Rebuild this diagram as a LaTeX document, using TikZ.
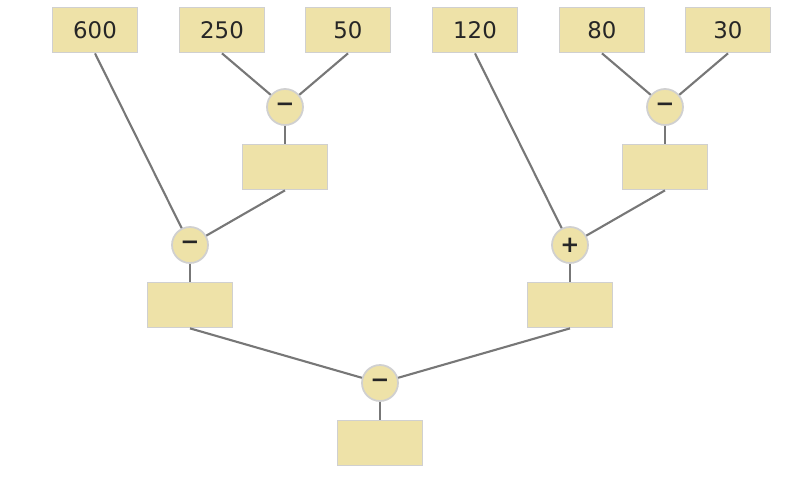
\documentclass[tikz,border=0pt]{standalone}
\usepackage{fontspec}
\setmainfont{DejaVu Sans}
\usetikzlibrary{positioning}
\definecolor{boxfill}{HTML}{EEE2A8}
\definecolor{boxdraw}{HTML}{D0D0D0}
\definecolor{wire}{HTML}{777777}
\tikzset
{
    valbox/.style = {rectangle, draw=boxdraw, fill=boxfill, line width=1pt, minimum width=1.7cm, minimum height=0.9cm, font=\fontsize{13}{15}\selectfont, text=black!85},
    opnode/.style = {circle, draw=boxdraw, fill=boxfill, line width=1pt, minimum size=0.72cm, inner sep=0pt, font=\bfseries\fontsize{13}{15}\selectfont, text=black!85},
    wire/.style   = {draw=wire, line width=1.2pt}
}
\begin{document}
\begin{tikzpicture}[x=0.02cm, y=-0.02cm]
   \useasboundingbox (0,0) rectangle (799,487);

   \node (a)  [valbox] at (95, 30)  {600};
   \node (b)  [valbox] at (222, 30) {250};
   \node (c)  [valbox] at (348, 30) {50};
   \node (d)  [valbox] at (475, 30) {120};
   \node (e)  [valbox] at (602, 30) {80};
   \node (f)  [valbox] at (728, 30) {30};

   \node (bc)  [opnode] at (285, 107) {−};
   \node (ef)  [opnode] at (665, 107) {−};
   \node (rbc) [valbox] at (285, 167) {};
   \node (ref) [valbox] at (665, 167) {};

   \node (abc)  [opnode] at (190, 245) {−};
   \node (def)  [opnode] at (570, 245) {+};
   \node (rabc) [valbox] at (190, 305) {};
   \node (rdef) [valbox] at (570, 305) {};

   \node (all)  [opnode] at (380, 383) {−};
   \node (rall) [valbox] at (380, 443) {};

   \path[wire]
      (b.south)    edge (bc)
      (c.south)    edge (bc)
      (e.south)    edge (ef)
      (f.south)    edge (ef)
      (bc)         edge (rbc)
      (ef)         edge (ref)
      (a.south)    edge (abc)
      (rbc.south)  edge (abc)
      (d.south)    edge (def)
      (ref.south)  edge (def)
      (abc)        edge (rabc)
      (def)        edge (rdef)
      (rabc.south) edge (all)
      (rdef.south) edge (all)
      (all)        edge (rall);
\end{tikzpicture}
\end{document}
